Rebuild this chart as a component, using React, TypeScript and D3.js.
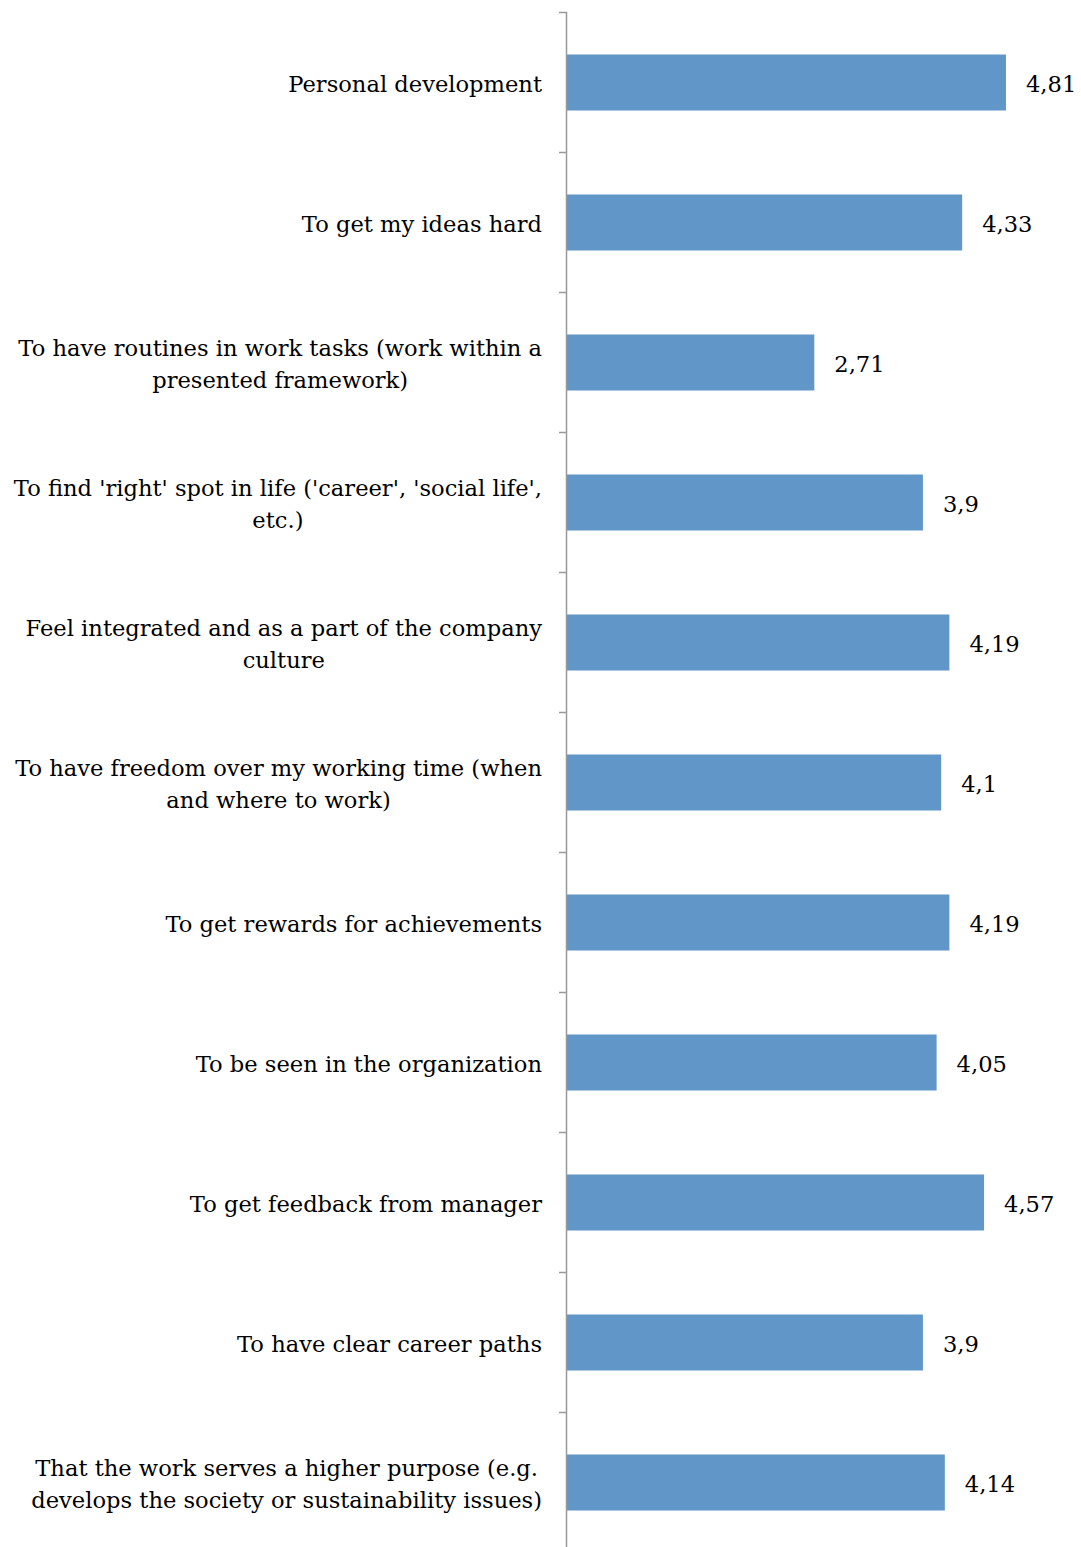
import React, { useEffect, useRef } from "react";
import * as d3 from "d3";

const categories: string[][] = [
  ["Personal development"],
  ["To get my ideas hard"],
  ["To have routines in work tasks (work within a", "presented framework)"],
  ["To find 'right' spot in life ('career', 'social life',", "etc.)"],
  ["Feel integrated and as a part of the company", "culture"],
  ["To have freedom over my working time (when", "and where to work)"],
  ["To get rewards for achievements"],
  ["To be seen in the organization"],
  ["To get feedback from manager"],
  ["To have clear career paths"],
  ["That the work serves a higher purpose (e.g.", "develops the society or sustainability issues)"],
];
const values: number[] = [4.81, 4.33, 2.71, 3.9, 4.19, 4.1, 4.19, 4.05, 4.57, 3.9, 4.14];
const valueLabels: string[] = ["4,81", "4,33", "2,71", "3,9", "4,19", "4,1", "4,19", "4,05", "4,57", "3,9", "4,14"];

const W = 1081;
const H = 1547;
const FONT = "'DejaVu Serif', serif";
const FS = 22.6;

export default function App() {
  const ref = useRef<SVGSVGElement>(null);
  useEffect(() => {
    const svg = d3.select(ref.current);
    svg.selectAll("*").remove();
    const idx = categories.map((_, i) => String(i));
    const y = d3.scaleBand<string>().domain(idx).range([12, 1552]).paddingInner(0.6).paddingOuter(0.3);
    const x = d3.scaleLinear().domain([0, 5]).range([567, 567 + 456.3]);
    const step = y.step();

    // bars
    svg.append("g").selectAll("rect").data(values).join("rect")
      .attr("x", x(0))
      .attr("y", (_, i) => (y(String(i)) as number) + 0.5)
      .attr("width", (d) => x(d) - x(0))
      .attr("height", y.bandwidth())
      .attr("fill", "#6096c8");

    // axis
    const ax = svg.append("g");
    ax.append("line").attr("x1", 566.5).attr("x2", 566.5).attr("y1", 12).attr("y2", H)
      .attr("stroke", "#999").attr("stroke-width", 1.5);
    const tickYs = d3.range(categories.length + 1).map((i) => 12 + i * step);
    ax.selectAll("line.t").data(tickYs).join("line").attr("class", "t")
      .attr("x1", 559).attr("x2", 566.5)
      .attr("y1", (d) => d + 0.5).attr("y2", (d) => d + 0.5)
      .attr("stroke", "#999").attr("stroke-width", 1.5);

    // category labels
    const lg = svg.append("g").attr("font-family", FONT).attr("font-size", FS).attr("fill", "#000");
    categories.forEach((lines, i) => {
      const cy = (y(String(i)) as number) + y.bandwidth() / 2 + 2.5;
      const g = lg.append("g");
      const texts = lines.map((ln, j) =>
        g.append("text")
          .attr("y", cy + (j - (lines.length - 1) / 2) * 32)
          .attr("dy", "0.35em")
          .attr("text-anchor", "middle")
          .text(ln)
      );
      const maxW = d3.max(texts, (t) => (t.node() as SVGTextElement).getComputedTextLength()) || 0;
      texts.forEach((t) => t.attr("x", 542 - maxW / 2));
    });

    // value labels
    svg.append("g").selectAll("text").data(values).join("text")
      .attr("x", (d) => x(d) + 20)
      .attr("y", (_, i) => (y(String(i)) as number) + y.bandwidth() / 2 + 2.5)
      .attr("dy", "0.35em")
      .attr("font-family", FONT).attr("font-size", FS).attr("fill", "#000")
      .text((_, i) => valueLabels[i]);
  }, []);
  return (
    <svg ref={ref} width={W} height={H} style={{ position: "absolute", left: 0, top: 0, background: "#fff" }} />
  );
}
